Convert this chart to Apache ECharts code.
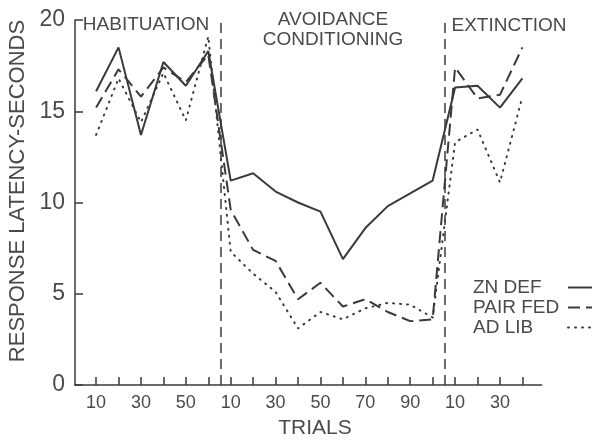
<!DOCTYPE html>
<html><head><meta charset="utf-8">
<script src="https://cdn.jsdelivr.net/npm/echarts@6/dist/echarts.min.js"></script>
<style>html,body{margin:0;padding:0;background:#fff}#c{width:597px;height:441px}</style>
</head><body><div id="c"></div>
<script>
// Trial tick labels (Habituation 10-60, Avoidance 10-100, Extinction 10-40)
const trialLabels = ['10','20','30','40','50','60','10','20','30','40','50','60','70','80','90','100','10','20','30','40'];
const shownLabelIdx = [1,3,5,7,9,11,13,15,17,19];
const sectionBounds = [6.57, 16.55];
const seriesNames = ['ZN DEF','PAIR FED','AD LIB'];
const znDef   = [16.1, 18.5, 13.7, 17.7, 16.4, 18.3, 11.2, 11.6, 10.6, 10.0, 9.5, 6.9, 8.6, 9.8, 10.5, 11.2, 16.3, 16.4, 15.2, 16.8];
const pairFed = [15.2, 17.3, 15.8, 17.4, 16.6, 18.1, 9.6, 7.4, 6.8, 4.7, 5.6, 4.3, 4.7, 4.0, 3.5, 3.6, 17.4, 15.7, 15.9, 18.5];
const adLib   = [13.7, 16.8, 14.4, 17.1, 14.5, 19.1, 7.3, 6.1, 5.1, 3.1, 4.0, 3.6, 4.2, 4.5, 4.4, 3.7, 13.3, 14.0, 11.1, 15.8];

const FONT = 'Liberation Sans';
const INK = '#3a3a3a';
const TXT = '#4a4a4a';
const toXY = arr => arr.map((v, i) => [i + 1, v]);

const chart = echarts.init(document.getElementById('c'), null, {renderer: 'canvas'});
chart.setOption({
  animation: false,
  backgroundColor: '#fff',
  grid: {left: 75, top: 20, width: 466.7, height: 365},
  xAxis: {
    type: 'value', min: 0.06, max: 20.86,
    axisLine: {show: true, lineStyle: {color: INK, width: 1.5}},
    axisTick: {show: true, inside: true, length: 8, lineStyle: {color: INK, width: 1.5},
      customValues: trialLabels.map((_, i) => i + 1)},
    axisLabel: {customValues: shownLabelIdx, formatter: v => trialLabels[Math.round(v) - 1],
      fontSize: 18, fontFamily: FONT, color: TXT, margin: 9},
    splitLine: {show: false}
  },
  yAxis: {
    type: 'value', min: 0, max: 20, interval: 5,
    axisLine: {show: true, lineStyle: {color: INK, width: 1.5}},
    axisTick: {show: true, inside: true, length: 8, lineStyle: {color: INK, width: 1.5}},
    axisLabel: {fontSize: 23, fontFamily: FONT, color: TXT, margin: 10},
    splitLine: {show: false}
  },
  legend: {
    orient: 'vertical', left: 473, top: 278, align: 'right', padding: 0,
    itemWidth: 24, itemHeight: 10, itemGap: 1,
    itemStyle: {opacity: 0},
    formatter: name => '{a|' + name + '}',
    textStyle: {fontSize: 19, fontFamily: FONT, color: TXT,
      rich: {a: {width: 90, align: 'left', fontSize: 19, fontFamily: FONT, color: TXT, lineHeight: 19}}},
    data: seriesNames
  },
  graphic: [
    {type: 'text', x: 18, y: 191, rotation: Math.PI / 2,
      style: {text: 'RESPONSE LATENCY-SECONDS', font: '22px "Liberation Sans"', fill: TXT, align: 'center', verticalAlign: 'middle'}},
    {type: 'text', x: 315, y: 428,
      style: {text: 'TRIALS', font: '21px "Liberation Sans"', fill: TXT, align: 'center', verticalAlign: 'middle'}},
    {type: 'text', x: 146, y: 25,
      style: {text: 'HABITUATION', font: '19px "Liberation Sans"', fill: TXT, align: 'center', verticalAlign: 'middle'}},
    {type: 'text', x: 333, y: 30,
      style: {text: 'AVOIDANCE\nCONDITIONING', font: '19px "Liberation Sans"', lineHeight: 20, fill: TXT, align: 'center', verticalAlign: 'middle'}},
    {type: 'text', x: 509, y: 25.5,
      style: {text: 'EXTINCTION', font: '19px "Liberation Sans"', fill: TXT, align: 'center', verticalAlign: 'middle'}}
  ],
  series: [
    {name: seriesNames[0], type: 'line', data: toXY(znDef), symbol: 'none',
      lineStyle: {color: INK, width: 2}, itemStyle: {color: INK},
      markLine: {silent: true, symbol: ['none', 'none'], label: {show: false},
        lineStyle: {color: INK, width: 1.5, type: [10, 6]},
        data: sectionBounds.map(b => ({xAxis: b}))}},
    {name: seriesNames[1], type: 'line', data: toXY(pairFed), symbol: 'none',
      lineStyle: {color: INK, width: 2, type: [12, 6]}, itemStyle: {color: INK}},
    {name: seriesNames[2], type: 'line', data: toXY(adLib), symbol: 'none',
      lineStyle: {color: INK, width: 2, type: [1, 6], cap: 'round'}, itemStyle: {color: INK}}
  ]
});
</script>
</body></html>
